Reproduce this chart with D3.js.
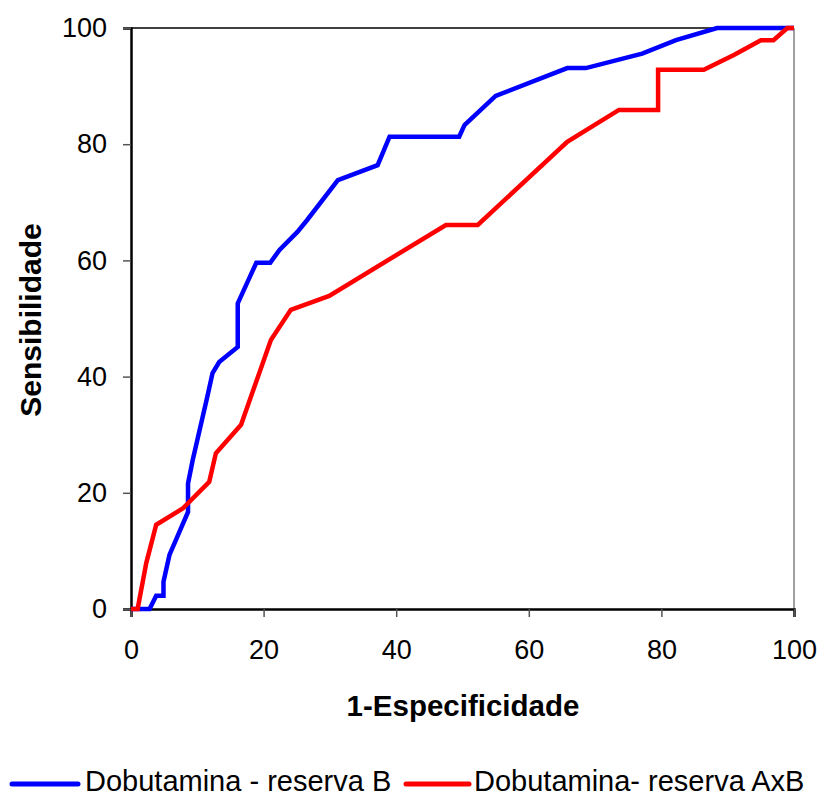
<!DOCTYPE html>
<html>
<head>
<meta charset="utf-8">
<script src="https://cdn.jsdelivr.net/npm/d3@7"></script>
<style>
  body { margin: 0; background: #fff; }
  svg { display: block; font-family: "Liberation Sans", Arial, sans-serif; }
</style>
</head>
<body>
<svg id="chart" width="821" height="796"></svg>
<script>
// ---- data ----
const seriesNames = ["Dobutamina - reserva B", "Dobutamina- reserva AxB"];
const seriesColors = ["#0000FF", "#FF0000"];

const blueX = [0, 2.8, 3.8, 4.9, 4.9, 5.8, 8.6, 8.6, 9.3, 11.5, 12.3, 13.3, 16.1, 16.1, 18.9, 21.0, 22.4, 25.1, 26.6, 31.2, 37.2, 39.0, 49.5, 50.3, 55.0, 65.8, 68.6, 77.1, 82.2, 88.4, 100];
const blueY = [0, 0, 2.3, 2.3, 4.7, 9.3, 16.7, 21.6, 25.6, 36.5, 40.6, 42.5, 45.1, 52.6, 59.6, 59.6, 61.8, 64.9, 67.0, 73.8, 76.4, 81.3, 81.3, 83.3, 88.3, 93.1, 93.1, 95.6, 97.9, 100, 100];

const redX = [0, 1.0, 2.3, 3.8, 7.8, 11.8, 12.8, 16.6, 21.1, 24.1, 29.9, 47.5, 52.3, 65.8, 73.6, 79.5, 79.5, 86.4, 91.0, 95.0, 96.9, 99.0, 100];
const redY = [0, 0, 7.9, 14.5, 17.3, 21.9, 26.8, 31.7, 46.3, 51.5, 53.9, 66.1, 66.1, 80.4, 85.9, 85.9, 92.8, 92.8, 95.4, 97.9, 97.9, 100, 100];

const xTicks = [0, 20, 40, 60, 80, 100];
const yTicks = [0, 20, 40, 60, 80, 100];
const xTitle = "1-Especificidade";
const yTitle = "Sensibilidade";

// ---- layout ----
const svg = d3.select("#chart");
const L = 131, R = 794, T = 28, B = 609;

const x = d3.scaleLinear().domain([0, 100]).range([L, R]);
const y = d3.scaleLinear().domain([0, 100]).range([B, T]);

// plot border (top and right)
svg.append("line").attr("x1", L).attr("x2", R).attr("y1", T).attr("y2", T)
  .attr("stroke", "#000").attr("stroke-width", 1.5);
svg.append("line").attr("x1", R).attr("x2", R).attr("y1", T).attr("y2", B)
  .attr("stroke", "#808080").attr("stroke-width", 1.5);

// axes
const xAxis = svg.append("g").attr("transform", `translate(0,${B})`)
  .call(d3.axisBottom(x).tickValues(xTicks).tickSize(8).tickPadding(23).tickFormat(d3.format("d")));
const yAxis = svg.append("g").attr("transform", `translate(${L},0)`)
  .call(d3.axisLeft(y).tickValues(yTicks).tickSize(8).tickPadding(16).tickFormat(d3.format("d")));

[xAxis, yAxis].forEach(g => {
  g.select(".domain").attr("stroke", "#000").attr("stroke-width", 2.5);
  g.selectAll(".tick line").attr("stroke", "#555").attr("stroke-width", 1.5);
  g.selectAll(".tick text").attr("font-size", 27).attr("fill", "#000")
    .attr("font-family", "'Liberation Sans', Arial, sans-serif");
});

// lines
const line = d3.line().x(d => x(d[0])).y(d => y(d[1]));
const series = [
  d3.zip(blueX, blueY),
  d3.zip(redX, redY)
];
svg.append("path").datum(series[0]).attr("d", line)
  .attr("fill", "none").attr("stroke", seriesColors[0]).attr("stroke-width", 4.5)
  .attr("stroke-linejoin", "miter");
svg.append("path").datum(series[1]).attr("d", line)
  .attr("fill", "none").attr("stroke", seriesColors[1]).attr("stroke-width", 4.5)
  .attr("stroke-linejoin", "miter");

// axis titles
svg.append("text").attr("x", 463).attr("y", 716)
  .attr("text-anchor", "middle").attr("font-weight", "bold").attr("font-size", 29.5)
  .text(xTitle);
svg.append("text").attr("transform", `translate(41,320) rotate(-90)`)
  .attr("text-anchor", "middle").attr("font-weight", "bold").attr("font-size", 30)
  .text(yTitle);

// legend
const legendItems = [
  { x1: 12, x2: 78, tx: 85 },
  { x1: 406, x2: 469, tx: 474 }
];
legendItems.forEach((it, i) => {
  svg.append("line").attr("x1", it.x1).attr("x2", it.x2).attr("y1", 784).attr("y2", 784)
    .attr("stroke", seriesColors[i]).attr("stroke-width", 5).attr("stroke-linecap", "round");
  svg.append("text").attr("x", it.tx).attr("y", 791).attr("font-size", 29)
    .text(seriesNames[i]);
});
</script>
</body>
</html>
